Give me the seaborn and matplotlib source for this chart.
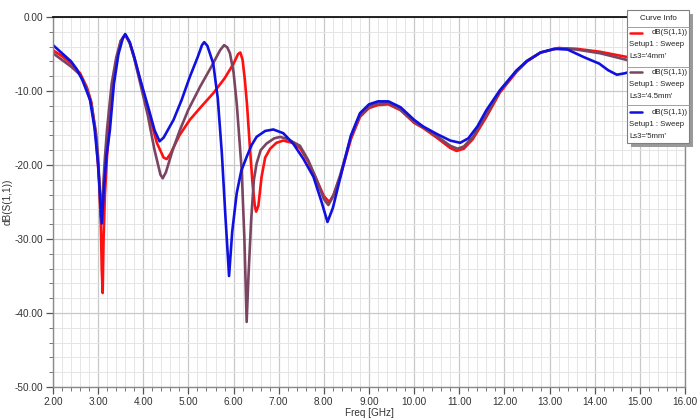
import numpy as np
import pandas as pd
import matplotlib
matplotlib.use("Agg")
import matplotlib.pyplot as plt
from matplotlib.patches import Rectangle
from matplotlib.lines import Line2D
from matplotlib.ticker import MultipleLocator
import seaborn as sns

# ---------------- data ----------------
freq_4mm = [2.0, 2.2, 2.4, 2.6, 2.75, 2.85, 2.95, 3.02, 3.06, 3.08, 3.10, 3.12, 3.15, 3.2, 3.3, 3.4, 3.5, 3.6,
            3.7, 3.8, 3.93, 4.1, 4.3, 4.45, 4.52, 4.6, 4.8, 5.03, 5.3, 5.55, 5.8, 6.0, 6.1, 6.15, 6.2, 6.25,
            6.3, 6.36, 6.42, 6.47, 6.5, 6.55, 6.62, 6.7, 6.81, 6.95, 7.1, 7.3, 7.47, 7.65, 7.84, 8.0, 8.12,
            8.22, 8.36, 8.6, 8.8, 9.0, 9.2, 9.43, 9.7, 10.0, 10.2, 10.5, 10.8, 10.94, 11.1, 11.3, 11.6, 11.9,
            12.27, 12.5, 12.8, 13.2, 13.6, 14.12, 14.71, 15.2, 16.0]
s11_4mm = [-4.5, -5.3, -6.3, -7.6, -9.5, -11.5, -16.0, -22.0, -28.0, -34.0, -37.3, -30.0, -24.0, -18.5, -11.0,
           -6.0, -3.3, -2.4, -3.5, -5.5, -8.5, -12.5, -17.0, -19.0, -19.2, -18.5, -16.0, -13.9, -12.0, -10.3,
           -8.3, -6.3, -5.0, -4.8, -5.8, -8.5, -12.0, -17.5, -22.5, -25.5, -26.3, -25.5, -21.6, -19.0, -17.8,
           -17.0, -16.7, -17.0, -17.7, -19.5, -22.0, -24.2, -25.0, -24.0, -21.6, -16.5, -13.5, -12.3, -11.9,
           -11.8, -12.6, -14.3, -15.0, -16.3, -17.7, -18.1, -17.8, -16.5, -13.5, -10.2, -7.4, -6.0, -4.8,
           -4.2, -4.3, -4.7, -5.4, -6.0, -6.5]

freq_45mm = [2.0, 2.2, 2.4, 2.6, 2.75, 2.85, 2.95, 3.0, 3.04, 3.06, 3.09, 3.15, 3.2, 3.3, 3.4, 3.5, 3.6, 3.7,
             3.8, 3.93, 4.1, 4.25, 4.38, 4.43, 4.5, 4.65, 4.81, 5.0, 5.26, 5.5, 5.7, 5.79, 5.86, 5.92, 6.0,
             6.07, 6.18, 6.24, 6.29, 6.33, 6.39, 6.45, 6.51, 6.6, 6.73, 6.9, 7.03, 7.2, 7.47, 7.65, 7.84, 8.0,
             8.1, 8.2, 8.36, 8.6, 8.8, 9.0, 9.2, 9.43, 9.7, 10.0, 10.2, 10.5, 10.8, 10.96, 11.1, 11.3, 11.6,
             11.9, 12.27, 12.5, 12.8, 13.2, 13.6, 14.12, 14.71, 15.2, 16.0]
s11_45mm = [-4.9, -5.8, -6.7, -7.8, -9.7, -11.8, -15.5, -19.0, -24.0, -27.0, -25.0, -19.0, -15.0, -9.0, -5.5,
            -3.2, -2.4, -3.5, -5.6, -8.9, -13.3, -18.0, -21.3, -21.8, -21.0, -18.0, -15.3, -12.5, -9.4, -6.8,
            -4.5, -3.8, -4.1, -4.9, -7.5, -11.7, -20.7, -30.0, -41.2, -35.0, -27.4, -22.0, -19.8, -18.0, -17.1,
            -16.4, -16.2, -16.5, -17.4, -19.3, -22.0, -24.6, -25.4, -24.3, -21.4, -16.2, -13.3, -12.1, -11.7,
            -11.6, -12.5, -14.2, -14.9, -16.1, -17.4, -17.8, -17.5, -16.2, -13.2, -10.0, -7.3, -5.9, -4.8,
            -4.2, -4.4, -4.9, -5.8, -6.4, -7.0]

freq_5mm = [2.0, 2.2, 2.4, 2.52, 2.65, 2.82, 2.92, 3.0, 3.05, 3.08, 3.12, 3.18, 3.26, 3.35, 3.45, 3.55, 3.6,
            3.7, 3.8, 3.93, 4.1, 4.25, 4.36, 4.45, 4.67, 4.85, 5.03, 5.2, 5.3, 5.35, 5.42, 5.55, 5.65, 5.74,
            5.82, 5.9, 5.97, 6.07, 6.17, 6.29, 6.4, 6.51, 6.7, 6.88, 7.1, 7.32, 7.55, 7.77, 7.95, 8.08, 8.2,
            8.36, 8.6, 8.8, 9.0, 9.2, 9.43, 9.7, 10.0, 10.2, 10.5, 10.8, 11.02, 11.2, 11.4, 11.6, 11.9, 12.27,
            12.49, 12.8, 13.1, 13.4, 13.75, 14.1, 14.3, 14.49, 14.67, 15.0, 15.5, 16.0]
s11_5mm = [-3.8, -4.9, -6.0, -7.0, -8.5, -11.2, -15.0, -20.0, -25.0, -27.9, -24.0, -19.0, -15.3, -9.0, -5.0,
           -2.8, -2.3, -3.4, -5.4, -8.4, -12.0, -15.3, -16.8, -16.3, -13.9, -11.2, -8.1, -5.5, -3.8, -3.4,
           -3.9, -6.3, -11.0, -18.4, -27.0, -35.0, -29.0, -23.8, -20.8, -18.9, -17.3, -16.2, -15.4, -15.2,
           -15.7, -17.1, -19.2, -21.6, -25.0, -27.7, -25.8, -21.8, -16.0, -13.0, -11.8, -11.4, -11.4, -12.2,
           -13.9, -14.8, -15.8, -16.7, -17.0, -16.4, -14.8, -12.6, -9.9, -7.2, -6.0, -4.8, -4.3, -4.4, -5.4,
           -6.3, -7.2, -7.8, -7.6, -7.0, -6.3, -6.0]

series_names = ["Ls3='4mm'", "Ls3='4.5mm'", "Ls3='5mm'"]
series_colors = ["#ff1010", "#7a4562", "#1010e0"]
x_ticks = [2, 3, 4, 5, 6, 7, 8, 9, 10, 11, 12, 13, 14, 15, 16]
y_ticks = [0, -10, -20, -30, -40, -50]

df = pd.concat([
    pd.DataFrame({"freq": freq_4mm, "s11": s11_4mm, "curve": series_names[0]}),
    pd.DataFrame({"freq": freq_45mm, "s11": s11_45mm, "curve": series_names[1]}),
    pd.DataFrame({"freq": freq_5mm, "s11": s11_5mm, "curve": series_names[2]}),
], ignore_index=True)

# ---------------- style ----------------
sns.set_style("white")
plt.rcParams["font.family"] = ["Liberation Sans", "DejaVu Sans"]

W, H = 700, 420
fig = plt.figure(figsize=(7.0, 4.2), dpi=100)
ax = fig.add_axes([53 / W, 1 - 387 / H, (685 - 53) / W, (387 - 17) / H])

sns.lineplot(data=df, x="freq", y="s11", hue="curve", hue_order=series_names,
             palette=dict(zip(series_names, series_colors)), estimator=None, sort=False,
             linewidth=1.9, legend=False, ax=ax)

ax.set_xlim(2, 16)
ax.set_ylim(-50, 0)
ax.set_xticks(x_ticks)
ax.set_xticklabels([f"{v:.2f}" for v in x_ticks])
ax.set_yticks(y_ticks)
ax.set_yticklabels([f"{v:.2f}" for v in y_ticks])
ax.xaxis.set_minor_locator(MultipleLocator(0.2))
ax.yaxis.set_minor_locator(MultipleLocator(2))
ax.grid(which="major", color="#c8c8c8", linewidth=0.9)
ax.grid(which="minor", color="#e5e5e5", linewidth=0.7)
ax.set_axisbelow(True)
ax.tick_params(axis="both", which="major", direction="out", length=5, width=0.9, color="#555555",
               labelsize=7.2, labelcolor="#333333", pad=2, left=True, bottom=True)
ax.tick_params(axis="both", which="minor", direction="out", length=3, width=0.7, color="#777777",
               left=True, bottom=True)
for side in ["left", "bottom", "right"]:
    ax.spines[side].set_color("#8a8a8a")
    ax.spines[side].set_linewidth(1.0)
ax.spines["top"].set_color("#111111")
ax.spines["top"].set_linewidth(1.3)
ax.set_xlabel("Freq [GHz]", fontsize=7.2, color="#333333", labelpad=1)
ax.set_ylabel("dB(S(1,1))", fontsize=7.2, color="#333333")
ax.yaxis.set_label_coords(-(53 - 13) / (685 - 53), 0.5)

# ---------------- "Curve Info" box (HFSS style) ----------------
def fx(px):
    return px / W

def fy(py):
    return 1 - py / H

bx0, bx1, by0, by1 = 627, 689, 10, 143
fig.add_artist(Rectangle((fx(bx0 + 4), fy(by1 + 4)), fx(bx1 - bx0), fy(by0) - fy(by1),
                         transform=fig.transFigure, facecolor="#9a9a9a", edgecolor="none", zorder=5))
fig.add_artist(Rectangle((fx(bx0), fy(by1)), fx(bx1 - bx0), fy(by0) - fy(by1),
                         transform=fig.transFigure, facecolor="white", edgecolor="#808080",
                         linewidth=0.8, zorder=6))
fig.text(fx((bx0 + bx1) / 2), fy(18), "Curve Info", ha="center", va="center", fontsize=5.8,
         color="#222222", zorder=7)
for yy in [27, 67, 105]:
    fig.add_artist(Line2D([fx(bx0), fx(bx1)], [fy(yy), fy(yy)], transform=fig.transFigure,
                          color="#a0a0a0", linewidth=0.7, zorder=7))
entry_tops = [33, 72, 112]
for name, col, yt in zip(series_names, series_colors, entry_tops):
    fig.add_artist(Line2D([fx(630), fx(642)], [fy(yt), fy(yt)], transform=fig.transFigure,
                          color=col, linewidth=1.8, zorder=7))
    fig.text(fx(688), fy(yt), "dB(S(1,1))", ha="right", va="center", fontsize=5.6,
             color="#222222", zorder=7)
    fig.text(fx(629), fy(yt + 12), "Setup1 : Sweep", ha="left", va="center", fontsize=5.6,
             color="#222222", zorder=7)
    fig.text(fx(629), fy(yt + 24), name, ha="left", va="center", fontsize=5.6,
             color="#222222", zorder=7)

fig.savefig("out.png", dpi=100)
